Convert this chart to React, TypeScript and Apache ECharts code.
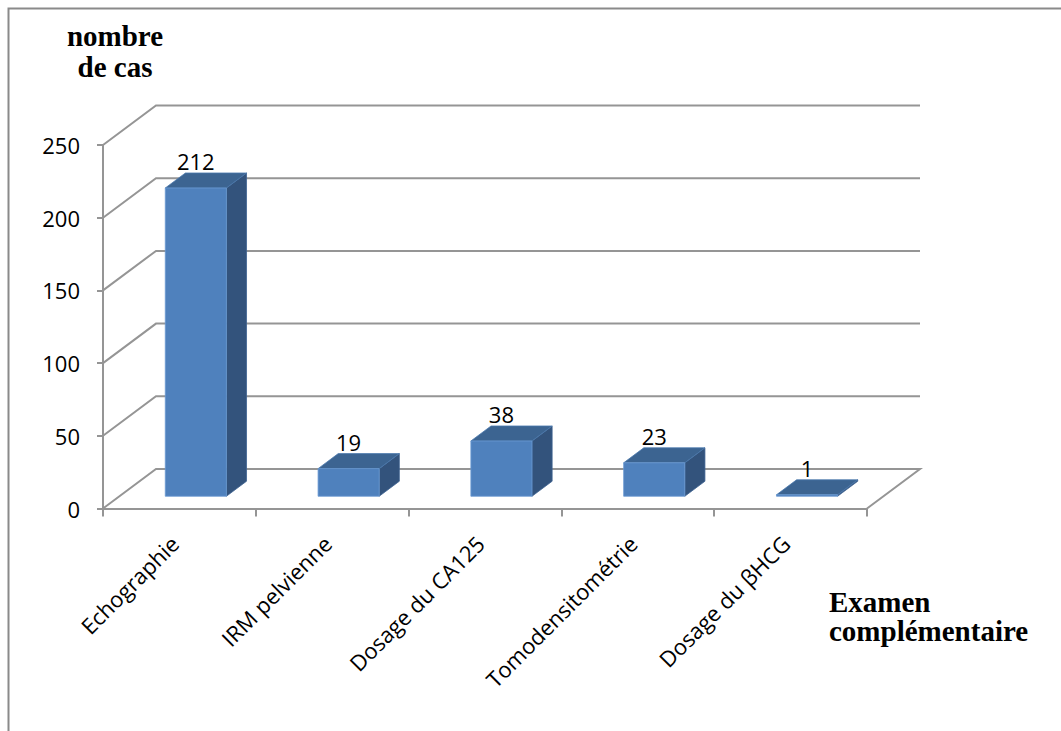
import React, { useEffect, useRef } from "react";
import * as echarts from "echarts";

// Examens complémentaires réalisés (nombre de cas)
const categories = [
  "Echographie",
  "IRM pelvienne",
  "Dosage du CA125",
  "Tomodensitométrie",
  "Dosage du βHCG",
];
const cases = [212, 19, 38, 23, 1];
const yTicks = [0, 50, 100, 150, 200, 250];

// pseudo-3D depth of the plot box (px) and bar placement inside it
const DX = 53;
const DY = -39.5;
const D_FRONT = 0.31;
const D_BACK = 0.69;
const LINE = "#959595";
const FRONT = "#4f81bd";
const TOP = "#3c6491";
const SIDE = "#33537c";
const LABEL_FONT = "'Open Sans'";
const TITLE_FONT = "bold 29px 'Liberation Serif'";

export default function App() {
  const ref = useRef<HTMLDivElement>(null);

  useEffect(() => {
    if (!ref.current) return;
    const chart = echarts.init(ref.current, null, { renderer: "svg" });

    const walls = {
      type: "custom",
      clip: false,
      silent: true,
      z: 1,
      data: yTicks.map((v) => [0, v]),
      renderItem: (params: any, api: any) => {
        const cs = params.coordSys;
        const y = api.coord([0, api.value(1)])[1];
        const left = cs.x;
        const right = cs.x + cs.width;
        const pts = [
          [left, y],
          [left + DX, y + DY],
          [right + DX, y + DY],
        ];
        if (api.value(1) === 0) pts.push([right, y]);
        return {
          type: "polyline",
          shape: { points: pts },
          style: { stroke: LINE, lineWidth: 2, fill: null },
        };
      },
    };

    const bars = {
      type: "custom",
      clip: false,
      z: 3,
      data: cases.map((v, i) => [i, v]),
      renderItem: (params: any, api: any) => {
        const i = api.value(0);
        const v = api.value(1);
        const top = api.coord([i, v]);
        const base = api.coord([i, 0]);
        const bw = api.size([1, 0])[0] * 0.4;
        const sx = D_FRONT * DX;
        const sy = D_FRONT * DY;
        const ddx = (D_BACK - D_FRONT) * DX;
        const ddy = (D_BACK - D_FRONT) * DY;
        const xl = top[0] - bw / 2 + sx;
        const xr = xl + bw;
        const yt = top[1] + sy;
        const yb = base[1] + sy;
        return {
          type: "group",
          children: [
            {
              type: "polygon",
              shape: {
                points: [
                  [xr, yt],
                  [xr + ddx, yt + ddy],
                  [xr + ddx, yb + ddy],
                  [xr, yb],
                ],
              },
              style: { fill: SIDE, stroke: "#3f6392", lineWidth: 0.8 },
            },
            {
              type: "polygon",
              shape: {
                points: [
                  [xl, yt],
                  [xr, yt],
                  [xr + ddx, yt + ddy],
                  [xl + ddx, yt + ddy],
                ],
              },
              style: { fill: TOP, stroke: "#4a78ad", lineWidth: 0.8 },
            },
            {
              type: "rect",
              shape: { x: xl, y: yt, width: bw, height: Math.max(yb - yt, 0.5) },
              style: { fill: FRONT, stroke: "#6b9bd3", lineWidth: 0.8 },
            },
            {
              type: "text",
              style: {
                text: String(v),
                x: top[0] + sx,
                y: yt + ddy - 12,
                align: "center",
                verticalAlign: "middle",
                fill: "#000",
                font: `22px ${LABEL_FONT}`,
              },
            },
          ],
        };
      },
    };

    const title = (text: string, x: number, y: number, align: string) => ({
      type: "text",
      x,
      y,
      style: { text, align, verticalAlign: "middle", font: TITLE_FONT, fill: "#000" },
    });

    chart.setOption({
      animation: false,
      backgroundColor: "#fff",
      grid: { left: 103, right: 194, top: 145, bottom: 222.5, containLabel: false },
      xAxis: {
        type: "category",
        data: categories,
        boundaryGap: true,
        axisLine: { lineStyle: { color: LINE, width: 2 } },
        axisTick: { show: true, length: 8, interval: 0, lineStyle: { color: LINE, width: 2 } },
        axisLabel: {
          interval: 0,
          rotate: 45,
          margin: 26,
          padding: [0, 7, 0, 0],
          color: "#000",
          fontFamily: LABEL_FONT,
          fontSize: 22,
        },
        splitLine: { show: false },
      },
      yAxis: {
        type: "value",
        min: 0,
        max: 250,
        interval: 50,
        axisLine: { show: true, lineStyle: { color: LINE, width: 2 } },
        axisTick: { show: true, length: 6, lineStyle: { color: LINE, width: 2 } },
        axisLabel: {
          margin: 23,
          color: "#000",
          fontFamily: LABEL_FONT,
          fontSize: 22,
        },
        splitLine: { show: false },
      },
      graphic: [
        {
          type: "rect",
          silent: true,
          shape: { x: 8.5, y: 8.5, width: 1100, height: 800 },
          style: { fill: null, stroke: "#8a8a8a", lineWidth: 2 },
          z: 0,
        },
        title("nombre", 115, 36, "center"),
        title("de cas", 115, 67, "center"),
        title("Examen", 829, 602, "left"),
        title("complémentaire", 829, 631, "left"),
      ],
      series: [walls, bars],
    });

    return () => chart.dispose();
  }, []);

  return (
    <div
      ref={ref}
      style={{ position: "absolute", left: 0, top: 0, width: 1061, height: 731 }}
    />
  );
}
